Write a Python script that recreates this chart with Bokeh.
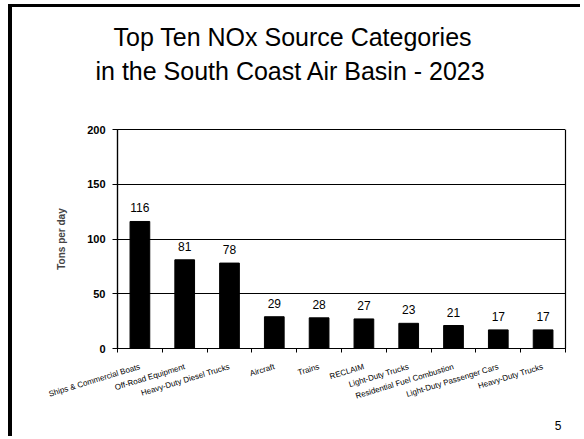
import math
from bokeh.plotting import figure
from bokeh.models import (FactorRange, Range1d, LinearAxis, CategoricalAxis,
                          FixedTicker, Title, ColumnDataSource, LabelSet)
from bokeh.core.properties import value
from bokeh.embed import file_html
from bokeh.resources import INLINE

categories = ["Ships & Commercial Boats", "Off-Road Equipment", "Heavy-Duty Diesel Trucks",
              "Aircraft", "Trains", "RECLAIM", "Light-Duty Trucks",
              "Residential Fuel Combustion", "Light-Duty Passenger Cars", "Heavy-Duty Trucks"]
nox_tons = [116, 81, 78, 29, 28, 27, 23, 21, 17, 17]
y_ticks = [0, 50, 100, 150, 200]
title_lines = ["Top Ten NOx Source Categories", "in the South Coast Air Basin - 2023"]
y_label = "Tons per day"
slide_number = "5"

SANS = "Liberation Sans"

p = figure(width=572, height=432, x_range=FactorRange(*categories), y_range=Range1d(0, 200),
           output_backend="svg", toolbar_location=None, x_axis_location=None,
           min_border_left=105, min_border_right=19, min_border_top=122, min_border_bottom=90)
p.styles = {"border-left": "4px solid black", "border-top": "3px solid black",
            "margin-left": "8px", "margin-top": "4px"}
p.outline_line_color = "black"
p.outline_line_width = 1.2
p.background_fill_color = "white"
p.xgrid.visible = False

src = ColumnDataSource(dict(cat=categories, val=nox_tons, lab=[str(v) for v in nox_tons]))
p.vbar(x="cat", top="val", width=0.44, source=src, fill_color="black", line_color="black")
p.add_layout(LabelSet(x="cat", y="val", text="lab", source=src, y_offset=9,
                      text_align="center", text_baseline="bottom",
                      text_font=value(SANS), text_font_size="12px", text_color="black"))

# y axis
ya = p.yaxis[0]
ya.ticker = FixedTicker(ticks=y_ticks)
ya.major_label_text_font = SANS
ya.major_label_text_font_style = "bold"
ya.major_label_text_font_size = "11px"
ya.major_label_text_color = "black"
ya.major_tick_out = 5
ya.major_tick_in = 0
ya.minor_tick_line_color = None
ya.major_label_standoff = 7
ya.axis_line_color = "black"
ya.axis_line_width = 1.2
ya.axis_label = y_label
ya.axis_label_text_font = SANS
ya.axis_label_text_font_style = "bold"
ya.axis_label_text_font_size = "10px"
ya.axis_label_standoff = 17
p.ygrid.ticker = FixedTicker(ticks=y_ticks)
p.ygrid.grid_line_color = "black"
p.ygrid.grid_line_width = 1.2

# x boundary ticks axis (ticks between categories, in the range's synthetic coordinates)
bounds = list(range(len(categories) + 1))
tick_axis = LinearAxis(ticker=FixedTicker(ticks=bounds),
                       major_label_overrides={b: "" for b in bounds},
                       major_label_text_color=None, major_tick_out=4, major_tick_in=0,
                       minor_tick_line_color=None, axis_line_color="black", axis_line_width=1.2,
                       major_label_standoff=0)
p.add_layout(tick_axis, "below")
cat_axis = CategoricalAxis(axis_line_color=None, major_tick_line_color=None,
                           minor_tick_line_color=None,
                           major_label_orientation=math.radians(17),
                           major_label_text_font=SANS, major_label_text_font_size="8px",
                           major_label_text_color="black", major_label_standoff=8)
p.add_layout(cat_axis, "below")

# invisible spacer between the frame and the two title lines
edge = len(categories)
spacer = LinearAxis(ticker=FixedTicker(ticks=[edge]), axis_line_color=None,
                    major_tick_line_color="white", minor_tick_line_color=None,
                    major_tick_out=45, major_tick_in=0, minor_tick_out=0,
                    major_label_overrides={edge: ""}, major_label_text_color=None,
                    major_label_standoff=0)
p.add_layout(spacer, "above")

t2 = Title(text=title_lines[1], align="left", text_font=SANS, text_font_size="25px",
           text_font_style="normal", text_color="black", standoff=0, offset=-22)
t1 = Title(text=title_lines[0], align="left", text_font=SANS, text_font_size="25px",
           text_font_style="normal", text_color="black", standoff=8, offset=-4)
p.add_layout(t2, "above")
p.add_layout(t1, "above")

sn = Title(text=slide_number, align="right", text_font=SANS, text_font_size="12px",
           text_font_style="normal", text_color="black", standoff=20, offset=4)
p.add_layout(sn, "below")

open("out.html", "w").write(file_html(p, INLINE))
